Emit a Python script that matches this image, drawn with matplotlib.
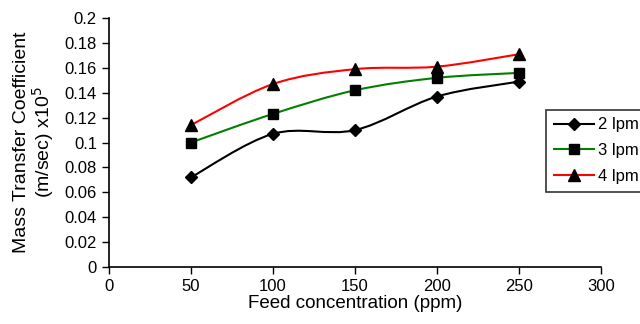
import numpy as np
import matplotlib.pyplot as plt
from matplotlib.path import Path
from matplotlib.patches import PathPatch

plt.rcParams['font.family'] = ['Liberation Sans', 'DejaVu Sans']

feed = [50, 100, 150, 200, 250]
lpm2 = [0.072, 0.107, 0.110, 0.137, 0.149]
lpm3 = [0.100, 0.123, 0.142, 0.152, 0.156]
lpm4 = [0.114, 0.147, 0.159, 0.161, 0.171]

series = [
    ('2 lpm', lpm2, 'black', 'D', 6),
    ('3 lpm', lpm3, 'green', 's', 7),
    ('4 lpm', lpm4, 'red', '^', 8),
]


def smooth_path(x, y):
    # Excel-like smoothed line: cubic Bezier through each point
    pts = np.column_stack([x, y]).astype(float)
    n = len(pts)
    verts = [pts[0]]
    codes = [Path.MOVETO]
    for i in range(n - 1):
        p0 = pts[i - 1] if i > 0 else pts[i]
        p1 = pts[i]
        p2 = pts[i + 1]
        p3 = pts[i + 2] if i + 2 < n else pts[i + 1]
        c1 = p1 + (p2 - p0) / 6.0
        c2 = p2 - (p3 - p1) / 6.0
        verts += [c1, c2, p2]
        codes += [Path.CURVE4] * 3
    return Path(verts, codes)


fig = plt.figure(figsize=(6.4, 3.24), dpi=100)
ax = fig.add_axes([0.170, 0.176, 0.769, 0.768])

for label, vals, col, mk, ms in series:
    ax.add_patch(PathPatch(smooth_path(feed, vals), facecolor='none',
                           edgecolor=col, lw=1.5, zorder=2))
    ax.plot(feed, vals, linestyle='none', marker=mk, color='black',
            markersize=ms, zorder=3)
    # proxy for legend
    ax.plot([], [], color=col, lw=1.5, marker=mk, markerfacecolor='black',
            markeredgecolor='black', markersize=ms, label=label)

ax.set_xlim(0, 300)
ax.set_ylim(0, 0.2)
ax.set_xticks(np.arange(0, 301, 50))
ax.set_yticks(np.arange(0, 0.201, 0.02))
ax.set_yticklabels(['0', '0.02', '0.04', '0.06', '0.08', '0.1', '0.12',
                    '0.14', '0.16', '0.18', '0.2'])
ax.tick_params(labelsize=12, length=5, width=1, color='black')
ax.spines['top'].set_visible(False)
ax.spines['right'].set_visible(False)
ax.spines['left'].set_linewidth(1.2)
ax.spines['bottom'].set_linewidth(1.2)
ax.set_xlabel('Feed concentration (ppm)', fontsize=13.5, labelpad=1)
ax.set_ylabel('Mass Transfer Coefficient\n(m/sec) x10$^5$', fontsize=14,
              linespacing=1.0, labelpad=6)

leg = fig.legend(loc='upper left', bbox_to_anchor=(546 / 640, 1 - 110 / 324),
                 borderaxespad=0, frameon=True, fancybox=False,
                 edgecolor='black', fontsize=12, handlelength=2.4,
                 borderpad=0.45, labelspacing=0.65, handletextpad=0.25)
leg.get_frame().set_linewidth(1.2)

fig.savefig('out.png', dpi=100)
